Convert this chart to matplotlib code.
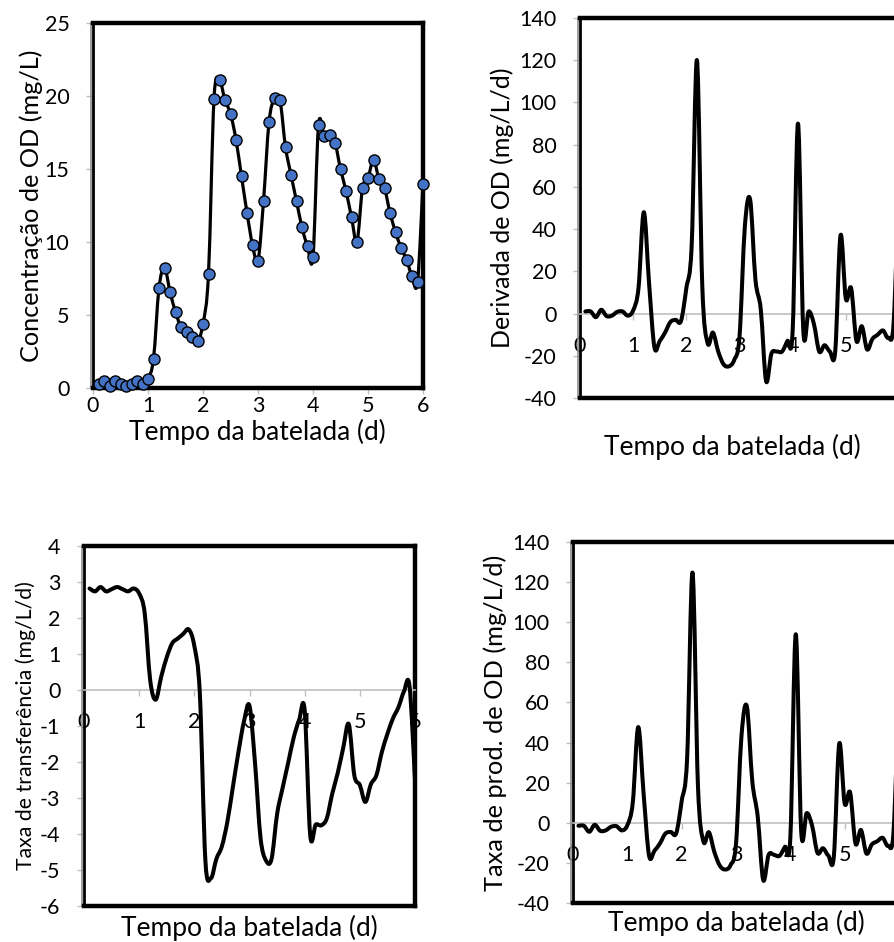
import numpy as np
import matplotlib
matplotlib.use("Agg")
import matplotlib.pyplot as plt
from matplotlib.path import Path
from matplotlib.patches import PathPatch
from matplotlib.lines import Line2D

plt.rcParams['font.family'] = ['Lato', 'DejaVu Sans']
plt.rcParams['axes.unicode_minus'] = False

# ---------------- data ----------------
tempo = [round(0.1 * i, 1) for i in range(1, 61)]

od_conc = [0.25, 0.46, 0.14, 0.46, 0.30, 0.14, 0.30, 0.46, 0.25, 0.60,
           2.00, 6.85, 8.24, 6.60, 5.20, 4.18, 3.84, 3.50, 3.20, 4.40,
           7.83, 19.80, 21.10, 19.70, 18.80, 17.00, 14.50, 12.00, 9.80, 8.70,
           12.80, 18.20, 19.84, 19.70, 16.50, 14.60, 12.80, 11.00, 9.70, 9.00,
           18.00, 17.24, 17.30, 16.80, 15.00, 13.50, 11.70, 10.00, 13.70, 14.40,
           15.60, 14.34, 13.70, 12.00, 10.70, 9.60, 8.80, 7.65, 7.24, 14.00]

od_deriv = [1.0, 1.0, -1.7, 1.8, -1.2, -1.0, 0.8, 1.0, -1.0, 1.5,
            12.0, 48.0, 14.0, -16.0, -13.0, -9.0, -4.0, -3.0, -3.5, 12.0,
            32.0, 120.0, 13.0, -14.0, -9.0, -18.0, -24.0, -25.0, -22.0, -11.0,
            41.0, 54.0, 16.0, 2.0, -32.0, -19.0, -18.0, -18.0, -13.0, -8.0,
            90.0, -8.0, 1.0, -5.0, -18.0, -15.0, -18.0, -18.0, 37.0, 7.0,
            12.0, -13.0, -6.0, -17.0, -12.0, -10.0, -8.0, -11.5, -4.0, 68.0]

taxa_transf = [2.82, 2.74, 2.86, 2.74, 2.80, 2.86, 2.80, 2.74, 2.82, 2.68,
               2.14, 0.27, -0.27, 0.37, 0.91, 1.30, 1.43, 1.56, 1.68, 1.22,
               -0.11, -4.73, -5.23, -4.69, -4.34, -3.65, -2.68, -1.72, -0.87, -0.44,
               -2.03, -4.11, -4.74, -4.69, -3.45, -2.72, -2.03, -1.33, -0.83, -0.56,
               -4.03, -3.74, -3.76, -3.57, -2.88, -2.30, -1.60, -0.95, -2.37, -2.64,
               -3.11, -2.62, -2.37, -1.72, -1.22, -0.79, -0.48, -0.04, 0.12, -2.49]

taxa_prod = [-1.5, -1.5, -4.5, -1.0, -4.0, -3.8, -2.0, -1.7, -3.8, -1.2,
             10.0, 47.7, 14.3, -16.4, -13.9, -10.3, -5.4, -4.6, -5.2, 10.8,
             32.0, 124.7, 18.2, -9.3, -4.7, -14.4, -21.3, -23.3, -21.1, -10.6,
             43.0, 58.0, 20.7, 3.0, -28.5, -16.0, -16.0, -16.5, -12.0, -7.5,
             94.0, -4.3, 4.8, -1.4, -15.0, -12.7, -16.4, -17.0, 39.4, 9.6,
             15.1, -10.4, -3.6, -15.3, -10.8, -9.2, -7.5, -11.5, -4.1, 70.5]

x_ticks = [0, 1, 2, 3, 4, 5, 6]
xlabel = "Tempo da batelada (d)"

W, H = 894, 942
fig = plt.figure(figsize=(W / 100, H / 100), dpi=100)

def add_ax(left, top, right, bottom):
    return fig.add_axes([left / W, 1 - bottom / H, (right - left) / W, (bottom - top) / H])

def smooth_path(x, y):
    x = np.asarray(x, float); y = np.asarray(y, float)
    n = len(x)
    verts = [(x[0], y[0])]
    codes = [Path.MOVETO]
    for i in range(n - 1):
        i0 = max(i - 1, 0); i3 = min(i + 2, n - 1)
        c1 = (x[i] + (x[i + 1] - x[i0]) / 6, y[i] + (y[i + 1] - y[i0]) / 6)
        c2 = (x[i + 1] - (x[i3] - x[i]) / 6, y[i + 1] - (y[i3] - y[i]) / 6)
        verts += [c1, c2, (x[i + 1], y[i + 1])]
        codes += [Path.CURVE4] * 3
    return Path(verts, codes)

GRAY = '#bfbfbf'
TICKFS = 15.5
LABFS = 19

def style(ax, ylim, yticks, zero_axis, show_last_x=True):
    ax.set_xlim(0, 6)
    ax.set_ylim(*ylim)
    ax.set_xticks(x_ticks)
    ax.set_yticks(yticks)
    ax.set_yticklabels([str(v) for v in yticks])
    xl = [str(v) for v in x_ticks]
    if not show_last_x:
        xl[-1] = ''
    ax.set_xticklabels(xl)
    for s in ['top', 'right']:
        ax.spines[s].set_linewidth(3.2)
        ax.spines[s].set_color('black')
    ax.spines['left'].set_linewidth(2.0)
    ax.spines['left'].set_color('black')
    ax.add_line(Line2D([-0.006, -0.006], [0, 1], transform=ax.transAxes,
                       color='#8c8c8c', lw=1.2, clip_on=False))
    ax.tick_params(axis='y', direction='out', length=5, width=1, color=GRAY,
                   labelsize=TICKFS, pad=12)
    if zero_axis:
        ax.spines['bottom'].set_position(('data', 0))
        ax.spines['bottom'].set_color(GRAY)
        ax.spines['bottom'].set_linewidth(1.2)
        ax.tick_params(axis='x', direction='out', length=4, width=1, color=GRAY,
                       labelsize=TICKFS, pad=12)
        ax.add_line(Line2D([0, 1], [0, 0], transform=ax.transAxes, color='black',
                           lw=3.2, clip_on=False, solid_capstyle='projecting'))
    else:
        ax.spines['bottom'].set_linewidth(3.2)
        ax.spines['bottom'].set_color('black')
        ax.tick_params(axis='x', direction='out', length=4, width=1, color=GRAY,
                       labelsize=TICKFS, pad=1.5)

def curve(ax, x, y, lw):
    ax.add_patch(PathPatch(smooth_path(x, y), facecolor='none', edgecolor='black',
                           lw=lw, capstyle='round', joinstyle='round', zorder=3))

# Panel 1
ax1 = add_ax(93, 23, 423, 388)
style(ax1, (0, 25), [0, 5, 10, 15, 20, 25], False)
curve(ax1, tempo, od_conc, 2.3)
ax1.plot(tempo, od_conc, linestyle='none', marker='o', ms=8, mfc='#4472C4',
         mec='black', mew=1.0, zorder=4, clip_on=False)
ax1.set_ylabel("Concentração de OD (mg/L)", fontsize=18.2, labelpad=1)
fig.text(257 / W, 1 - 432 / H, xlabel, fontsize=LABFS, ha='center', va='center')

# Panel 2
ax2 = add_ax(580, 18, 899, 398)
style(ax2, (-40, 140), list(range(-40, 141, 20)), True, show_last_x=False)
curve(ax2, tempo, od_deriv, 2.9)
ax2.set_ylabel("Derivada de OD (mg/L/d)", fontsize=18, labelpad=4)
fig.text(732 / W, 1 - 447 / H, xlabel, fontsize=LABFS, ha='center', va='center')

# Panel 3
ax3 = add_ax(84, 546, 415, 906)
style(ax3, (-6, 4), list(range(-6, 5, 1)), True)
curve(ax3, tempo, taxa_transf, 2.9)
ax3.set_ylabel("Taxa de transferência (mg/L/d)", fontsize=15.3, labelpad=3)
fig.text(249 / W, 1 - 928 / H, xlabel, fontsize=LABFS, ha='center', va='center')

# Panel 4
ax4 = add_ax(573, 542, 899, 903)
style(ax4, (-40, 140), list(range(-40, 141, 20)), True, show_last_x=False)
curve(ax4, tempo, taxa_prod, 2.9)
ax4.set_ylabel("Taxa de prod. de OD (mg/L/d)", fontsize=18.3, labelpad=4)
fig.text(736 / W, 1 - 923 / H, xlabel, fontsize=LABFS, ha='center', va='center')

fig.savefig("out.png", dpi=100)
